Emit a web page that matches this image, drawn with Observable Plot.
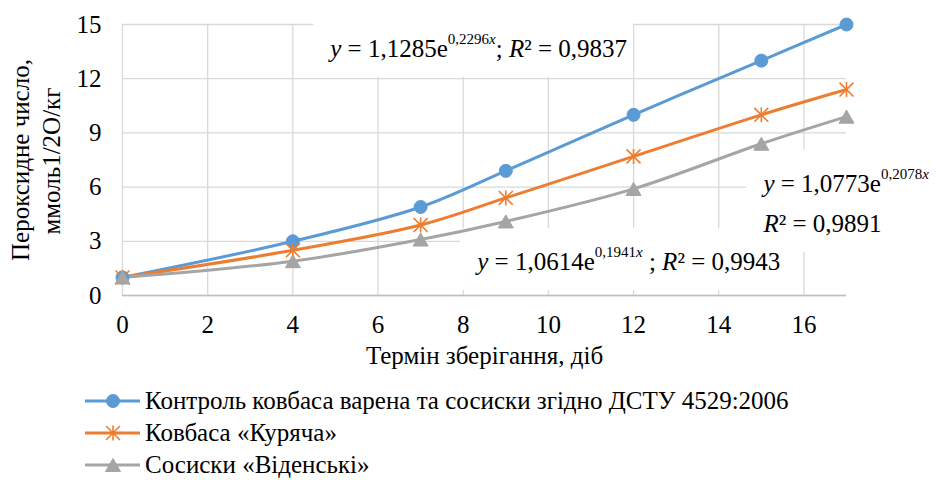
<!DOCTYPE html>
<html>
<head>
<meta charset="utf-8">
<script src="https://cdn.jsdelivr.net/npm/d3@7"></script>
<script src="https://cdn.jsdelivr.net/npm/@observablehq/plot@0.6"></script>
<style>
  body { margin: 0; background: #fff; font-family: "Liberation Serif", "Times New Roman", serif; }
  #chart svg { display: block; }
  #legend { position: relative; width: 936px; height: 105px; }
  .row { position: absolute; left: 85px; height: 24px; line-height: 24px; display: flex; align-items: center;
         font-size: 25px; color: #000; white-space: nowrap; }
  .row svg { display: block; margin-right: 5px; }
</style>
</head>
<body>
<div id="chart"></div>
<div id="legend"></div>
<script>
// Storage time, days
const days = [0, 4, 7, 9, 12, 15, 17];
// Peroxide value, mmol ½O/kg
const control  = [1, 3, 4.9, 6.9, 10, 13, 15];
const kuriacha = [1, 2.5, 3.9, 5.4, 7.7, 10, 11.4];
const videnski = [1, 1.9, 3.1, 4.1, 5.9, 8.4, 9.9];

const seriesNames = [
  "Контроль ковбаса варена та сосиски згідно ДСТУ 4529:2006",
  "Ковбаса «Куряча»",
  "Сосиски «Віденські»"
];
const seriesColors = ["#5b9bd5", "#ed7d31", "#a5a5a5"];

const xTicks = [0, 2, 4, 6, 8, 10, 12, 14, 16];
const yTicks = [0, 3, 6, 9, 12, 15];
const xTitle = "Термін зберігання, діб";
const yTitle = ["Пероксидне число,", "ммоль1/2О/кг"];

// Exponential trend equations, anchored at (day, value) of the first baseline
const trendLabels = [
  { x: 4.89, y: 13.19, lines: [[["y", "i"], [" = 1,1285e"], ["0,2296", "s"], ["x", "si"], ["; "], ["R", "i"], ["² = 0,9837"]]] },
  { x: 15.06, y: 5.72, lines: [[["y", "i"], [" = 1,0773e"], ["0,2078", "s"], ["x", "si"]], [["R", "i"], ["² = 0,9891"]]] },
  { x: 8.34, y: 1.38, lines: [[["y", "i"], [" = 1,0614e"], ["0,1941", "s"], ["x", "si"], [" ; "], ["R", "i"], ["² = 0,9943"]]] }
];

const rows = [control, kuriacha, videnski].flatMap((vals, k) =>
  vals.map((v, i) => ({ series: seriesNames[k], day: days[i], value: v })));

// Marker shapes: filled circle, six-armed star, filled triangle
const circleSym = { draw(ctx, size) { const r = Math.sqrt(size / Math.PI); ctx.moveTo(r, 0); ctx.arc(0, 0, r, 0, 2 * Math.PI); } };
const starSym = { draw(ctx, size) {
  const r = Math.sqrt(size / Math.PI), k = r * 0.93;
  ctx.moveTo(0, -r); ctx.lineTo(0, r);
  ctx.moveTo(-k, -k); ctx.lineTo(k, k);
  ctx.moveTo(-k, k); ctx.lineTo(k, -k);
} };
const triSym = { draw(ctx, size) {
  const r = Math.sqrt(size / Math.PI), h = r * 0.87;
  ctx.moveTo(0, -h); ctx.lineTo(r, h); ctx.lineTo(-r, h); ctx.closePath();
} };
const markers = [
  { sym: circleSym, r: 6.5, fill: true },
  { sym: starSym, r: 7.5, fill: false },
  { sym: triSym, r: 7.5, fill: true }
];

const color = { domain: seriesNames, range: seriesColors };

const plot = Plot.plot({
  width: 936,
  height: 375,
  marginLeft: 122,
  marginRight: 90,
  marginTop: 24,
  marginBottom: 80,
  style: { fontFamily: "'Liberation Serif', 'Times New Roman', serif", fontSize: "25px", color: "#000", background: "#fff" },
  x: { domain: [0, 17] },
  y: { domain: [0, 15] },
  color,
  marks: [
    Plot.gridY({ ticks: yTicks, stroke: "#d9d9d9", strokeOpacity: 1, strokeWidth: 1.3 }),
    Plot.gridX({ ticks: xTicks, stroke: "#d9d9d9", strokeOpacity: 1, strokeWidth: 1.3 }),
    Plot.ruleY([0], { stroke: "#bfbfbf", strokeWidth: 1.6 }),
    Plot.line(rows, { x: "day", y: "value", z: "series", stroke: "series", strokeWidth: 3, curve: "catmull-rom" }),
    ...markers.map((m, k) => Plot.dot(rows.filter(d => d.series === seriesNames[k]), {
      x: "day", y: "value", r: m.r, symbol: m.sym,
      fill: m.fill ? seriesColors[k] : "none",
      stroke: seriesColors[k], strokeWidth: m.fill ? 1 : 1.6
    })),
    Plot.axisY({ ticks: yTicks, tickSize: 0, tickPadding: 21, label: null }),
    Plot.axisX({ ticks: xTicks, tickSize: 0, tickPadding: 20, label: null }),
    Plot.text([xTitle], { text: d => d, frameAnchor: "bottom", dy: 68, fill: "#000" })
  ]
});

document.getElementById("chart").appendChild(plot);

const svg = d3.select(plot);
const sx = plot.scale("x"), sy = plot.scale("y");

// Vertical y-axis title, two centred lines
const yt = svg.append("g").attr("font-size", 25).attr("fill", "#000").attr("text-anchor", "middle");
yt.append("text").attr("transform", "translate(29,160) rotate(-90)").text(yTitle[0]);
yt.append("text").attr("transform", "translate(60,161) rotate(-90)").text(yTitle[1]);

// Trend-equation labels on white boxes (boxes sit under the series lines)
const firstLine = plot.querySelector('g[aria-label="line"]');
const boxLayer = d3.select(plot.insertBefore(document.createElementNS("http://www.w3.org/2000/svg", "g"), firstLine));
const textLayer = svg.append("g").attr("font-size", 25).attr("fill", "#000").attr("text-anchor", "start");

for (const lab of trendLabels) {
  const x0 = sx.apply(lab.x), y0 = sy.apply(lab.y);
  const texts = lab.lines.map((parts, li) => {
    const t = textLayer.append("text").attr("x", x0).attr("y", y0 + li * 40);
    let raised = false;
    for (const [s, f = ""] of parts) {
      const sp = t.append("tspan").text(s);
      const isSup = f.includes("s");
      if (isSup) sp.attr("font-size", 15);
      if (f.includes("i")) sp.attr("font-style", "italic");
      if (isSup && !raised) { sp.attr("dy", -13); raised = true; }
      else if (!isSup && raised) { sp.attr("dy", 13); raised = false; }
    }
    return t.node();
  });
  const boxes = texts.map(n => n.getBBox());
  const bx0 = d3.min(boxes, b => b.x) - 14, bx1 = d3.max(boxes, b => b.x + b.width) + 6;
  const by0 = d3.min(boxes, b => b.y) - 16, by1 = d3.max(boxes, b => b.y + b.height) + 15;
  boxLayer.append("rect").attr("x", bx0).attr("y", by0)
    .attr("width", bx1 - bx0).attr("height", by1 - by0).attr("fill", "#fff");
}

// Legend below the chart
const legend = d3.select("#legend");
seriesNames.forEach((name, k) => {
  const row = legend.append("div").attr("class", "row").style("top", (14 + k * 32) + "px");
  const sw = row.append("svg").attr("width", 55).attr("height", 20);
  sw.append("line").attr("x1", 0).attr("x2", 55).attr("y1", 10).attr("y2", 10)
    .attr("stroke", seriesColors[k]).attr("stroke-width", 3);
  const m = markers[k];
  sw.append("path").attr("transform", "translate(28,10)")
    .attr("d", d3.symbol(m.sym, m.r * m.r * Math.PI)())
    .attr("fill", m.fill ? seriesColors[k] : "none")
    .attr("stroke", seriesColors[k]).attr("stroke-width", m.fill ? 1 : 1.6);
  row.append("span").text(name);
});
</script>
</body>
</html>
